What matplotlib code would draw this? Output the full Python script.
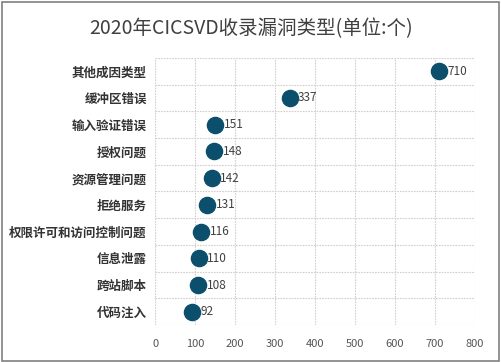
import matplotlib.pyplot as plt

plt.rcParams['font.family'] = ['Noto Sans CJK SC', 'DejaVu Sans']

categories = ['其他成因类型', '缓冲区错误', '输入验证错误', '授权问题', '资源管理问题',
              '拒绝服务', '权限许可和访问控制问题', '信息泄露', '跨站脚本', '代码注入']
values = [710, 337, 151, 148, 142, 131, 116, 110, 108, 92]

fig = plt.figure(figsize=(5.02, 3.62), dpi=100)
ax = fig.add_axes([0.309, 0.102, 0.637, 0.738])

n = len(categories)
ypos = [n - 1 - i + 0.5 for i in range(n)]
ax.scatter(values, ypos, s=135, color='#0b4f6c', zorder=3)
for v, y in zip(values, ypos):
    ax.annotate(str(v), (v, y), xytext=(6, 0), textcoords='offset points',
                va='center', ha='left', fontsize=8.5, color='#404040', zorder=4)

ax.set_xlim(0, 800)
ax.set_ylim(0, n)
ax.set_xticks(range(0, 801, 100))
ax.set_yticks(ypos)
ax.set_yticklabels(categories, fontsize=9, color='#333333', fontweight='bold')
ax.set_yticks(range(0, n + 1), minor=True)
ax.tick_params(axis='y', which='both', length=0, pad=6)
ax.tick_params(axis='x', length=0, labelsize=8, labelcolor='#555555', pad=10)
ax.grid(True, which='minor', axis='y', color='#d0d0d0', linestyle=(0, (1.5, 1)), linewidth=0.8)
ax.grid(True, which='major', axis='x', color='#d0d0d0', linestyle=(0, (1.5, 1)), linewidth=0.8)
for s in ax.spines.values():
    s.set_visible(False)

fig.text(0.5, 0.92, '2020年CICSVD收录漏洞类型(单位:个)', ha='center', va='center',
         fontsize=14, color='#404040', fontweight='medium')
fig.add_artist(plt.Rectangle((0.004, 0.004), 0.99, 0.99, transform=fig.transFigure,
                             fill=False, edgecolor='#808080', linewidth=1.2))

fig.savefig('out.png', dpi=100)
